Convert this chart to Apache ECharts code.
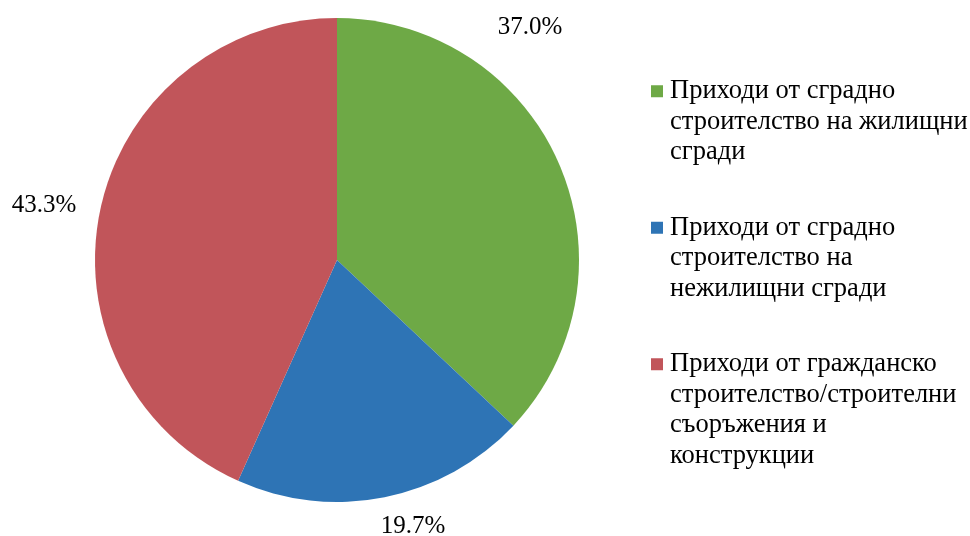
<!DOCTYPE html>
<html>
<head>
<meta charset="utf-8">
<script src="https://cdn.jsdelivr.net/npm/echarts@6/dist/echarts.min.js"></script>
<style>
html, body { margin: 0; padding: 0; background: #fff; }
#chart { width: 970px; height: 536px; }
</style>
</head>
<body>
<div id="chart"></div>
<script>
// data
var categories = [
  'Приходи от сградно строителство на жилищни сгради',
  'Приходи от сградно строителство на нежилищни сгради',
  'Приходи от гражданско строителство/строителни съоръжения и конструкции'
];
var legendLines = [
  ['Приходи от сградно', 'строителство на жилищни', 'сгради'],
  ['Приходи от сградно', 'строителство на', 'нежилищни сгради'],
  ['Приходи от гражданско', 'строителство/строителни', 'съоръжения и', 'конструкции']
];
var values = [37.0, 19.7, 43.3];
var colors = ['#6EA946', '#2E74B5', '#C1555A'];

// where excel put the percent labels
var labelPos = [[530, 27], [413, 526], [44, 205]];

var FONT = '"Liberation Serif", "Times New Roman", serif';
var LINE_H = 30.5;

var pieData = categories.map(function (name, i) {
  return { name: name, value: values[i], itemStyle: { color: colors[i] } };
});

// legend marker drawn inside the rich text so it sits on the first line
var legendRich = {
  g: { width: 7, lineHeight: LINE_H },
  i: { width: 19, lineHeight: LINE_H }
};
colors.forEach(function (c, i) {
  legendRich['m' + i] = { width: 12, height: 12, backgroundColor: c, lineHeight: LINE_H };
});

var chart = echarts.init(document.getElementById('chart'));
chart.setOption({
  animation: false,
  backgroundColor: '#fff',
  legend: {
    orient: 'vertical',
    left: 646,
    top: 76,
    padding: 0,
    itemGap: 45,
    itemWidth: 0,
    itemHeight: 0,
    icon: 'none',
    selectedMode: false,
    data: categories,
    formatter: function (name) {
      var k = categories.indexOf(name);
      return legendLines[k].map(function (line, j) {
        return (j === 0 ? '{m' + k + '|}{g|}' : '{i|}') + line;
      }).join('\n');
    },
    textStyle: {
      fontFamily: FONT,
      fontSize: 26.5,
      lineHeight: LINE_H,
      color: '#000',
      rich: legendRich
    }
  },
  series: [{
    type: 'pie',
    center: [337, 260],
    radius: 242,
    startAngle: 90,
    clockwise: true,
    avoidLabelOverlap: false,
    itemStyle: { borderWidth: 0 },
    label: {
      show: true,
      position: 'outside',
      fontFamily: FONT,
      fontSize: 25,
      color: '#000',
      formatter: function (p) { return p.value.toFixed(1) + '%'; }
    },
    labelLine: { show: false },
    labelLayout: function (p) {
      return {
        x: labelPos[p.dataIndex][0],
        y: labelPos[p.dataIndex][1],
        align: 'center',
        verticalAlign: 'middle'
      };
    },
    emphasis: { disabled: true },
    data: pieData
  }]
});
</script>
</body>
</html>
